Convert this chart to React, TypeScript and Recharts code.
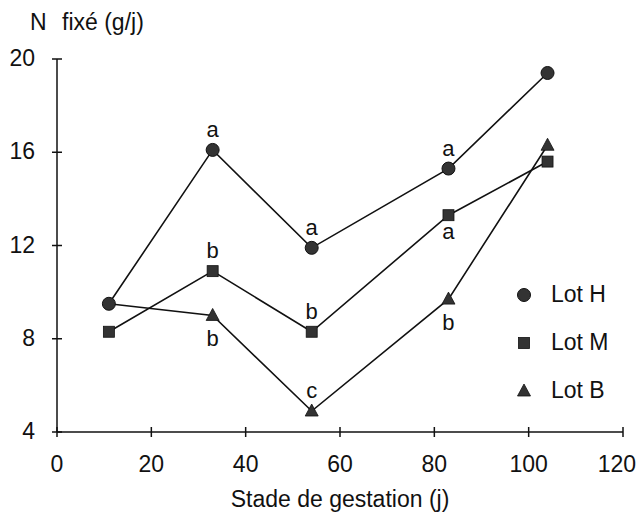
import React from "react";
import { LineChart, Line, XAxis, YAxis, Legend, LabelList, Customized } from "recharts";

// jours de gestation
const days = [11, 33, 54, 83, 104];
// N fixé (g/j) par lot
const lotH = [9.5, 16.1, 11.9, 15.3, 19.4];
const lotM = [8.3, 10.9, 8.3, 13.3, 15.6];
const lotB = [9.5, 9.0, 4.9, 9.7, 16.3];
// lettres de signification
const lettersH = ["", "a", "a", "a", ""];
const lettersM = ["", "b", "b", "a", ""];
const lettersB = ["", "b", "c", "b", ""];
const sideH = ["", "up", "up", "up", ""];
const sideM = ["", "up", "up", "down", ""];
const sideB = ["", "down", "up", "down", ""];

const xTicks = [0, 20, 40, 60, 80, 100, 120];
const yTicks = [4, 8, 12, 16, 20];

const FONT = "'Liberation Sans', Arial, Helvetica, sans-serif";
const INK = "#111";
const FILL = "#333";

const data = days.map((d, i) => ({
  day: d,
  H: lotH[i],
  M: lotM[i],
  B: lotB[i],
  labH: lettersH[i],
  labM: lettersM[i],
  labB: lettersB[i],
}));

type Shape = "circle" | "square" | "triangle";

function Marker({ shape, cx, cy }: { shape: Shape; cx: number; cy: number }) {
  if (shape === "circle") return <circle cx={cx} cy={cy} r={6.5} fill={FILL} stroke={INK} strokeWidth={1} />;
  if (shape === "square")
    return <rect x={cx - 5.5} y={cy - 5.5} width={11} height={11} fill={FILL} stroke={INK} strokeWidth={0.8} />;
  return (
    <polygon
      points={`${cx},${cy - 7} ${cx + 6.5},${cy + 5} ${cx - 6.5},${cy + 5}`}
      fill={FILL}
      stroke={INK}
      strokeWidth={0.8}
    />
  );
}

const makeDot = (shape: Shape, hideShared?: boolean) => (props: any) => {
  const { cx, cy, index } = props;
  // premier point du lot B confondu avec celui du lot H
  if (hideShared && lotB[index] === lotH[index]) return <g key={`d-${shape}-${index}`} />;
  return <Marker key={`d-${shape}-${index}`} shape={shape} cx={cx} cy={cy} />;
};

const makeLetter = (sides: string[], below: number) => (props: any) => {
  const { x, y, value, index } = props;
  if (!value) return null;
  const dy = sides[index] === "down" ? below : -13;
  return (
    <text x={x} y={y + dy} textAnchor="middle" fontSize={22} fontFamily={FONT} fill={INK}>
      {value}
    </text>
  );
};

const XTick = (props: any) => {
  const { x, y, payload, index } = props;
  const last = index === xTicks.length - 1;
  return (
    <g>
      <line x1={x} x2={x} y1={y - 5} y2={y + 5} stroke={INK} strokeWidth={1.5} />
      <text
        x={last ? x + 13 : x}
        y={y + 40}
        textAnchor={last ? "end" : "middle"}
        fontSize={23}
        fontFamily={FONT}
        fill={INK}
      >
        {payload.value}
      </text>
    </g>
  );
};

const YTick = (props: any) => {
  const { x, y, payload } = props;
  return (
    <g>
      <line x1={x - 5} x2={x + 5} y1={y} y2={y} stroke={INK} strokeWidth={1.5} />
      <text x={x - 22} y={y + 7} textAnchor="end" fontSize={23} fontFamily={FONT} fill={INK}>
        {payload.value}
      </text>
    </g>
  );
};

const legendItems: { name: string; shape: Shape }[] = [
  { name: "Lot H", shape: "circle" },
  { name: "Lot M", shape: "square" },
  { name: "Lot B", shape: "triangle" },
];

const LegendBox = () => (
  <div style={{ fontFamily: FONT, fontSize: 23, color: INK }}>
    {legendItems.map((it) => (
      <div key={it.name} style={{ display: "flex", alignItems: "center", height: 48 }}>
        <svg width={24} height={20} style={{ marginRight: 15 }}>
          <Marker shape={it.shape} cx={12} cy={11} />
        </svg>
        <span>{it.name}</span>
      </div>
    ))}
  </div>
);

const YTitle = () => (
  <text y={30} fontSize={23} fontFamily={FONT} fill={INK}>
    <tspan x={30}>N</tspan>
    <tspan x={62}>fixé (g/j)</tspan>
  </text>
);

export default function App() {
  return (
    <div style={{ position: "absolute", left: 0, top: 0, width: 638, height: 520, background: "#fff" }}>
      <LineChart width={638} height={520} data={data} margin={{ top: 59, right: 15, bottom: 0, left: 0 }}>
        <XAxis
          dataKey="day"
          type="number"
          domain={[0, 120]}
          ticks={xTicks}
          interval={0}
          height={88}
          tickSize={0}
          tickMargin={0}
          tickLine={false}
          tick={<XTick />}
          axisLine={{ stroke: INK, strokeWidth: 1.5 }}
          label={{ value: "Stade de gestation (j)", position: "insideBottom", offset: 13, fontSize: 23, fontFamily: FONT, fill: INK }}
        />
        <YAxis
          type="number"
          domain={[4, 20]}
          ticks={yTicks}
          interval={0}
          width={57}
          tickSize={0}
          tickMargin={0}
          tickLine={false}
          tick={<YTick />}
          axisLine={{ stroke: INK, strokeWidth: 1.5 }}
        />
        <Customized component={YTitle} />
        <Line dataKey="B" stroke={INK} strokeWidth={1.6} dot={makeDot("triangle", true)} isAnimationActive={false}>
          <LabelList dataKey="labB" content={makeLetter(sideB, 31)} />
        </Line>
        <Line dataKey="M" stroke={INK} strokeWidth={1.6} dot={makeDot("square")} isAnimationActive={false}>
          <LabelList dataKey="labM" content={makeLetter(sideM, 24)} />
        </Line>
        <Line dataKey="H" stroke={INK} strokeWidth={1.6} dot={makeDot("circle")} isAnimationActive={false}>
          <LabelList dataKey="labH" content={makeLetter(sideH, 24)} />
        </Line>
        <Legend
          layout="vertical"
          align="center"
          verticalAlign="middle"
          content={<LegendBox />}
          wrapperStyle={{ position: "absolute", left: 512, top: 270, width: 126 }}
        />
      </LineChart>
    </div>
  );
}
